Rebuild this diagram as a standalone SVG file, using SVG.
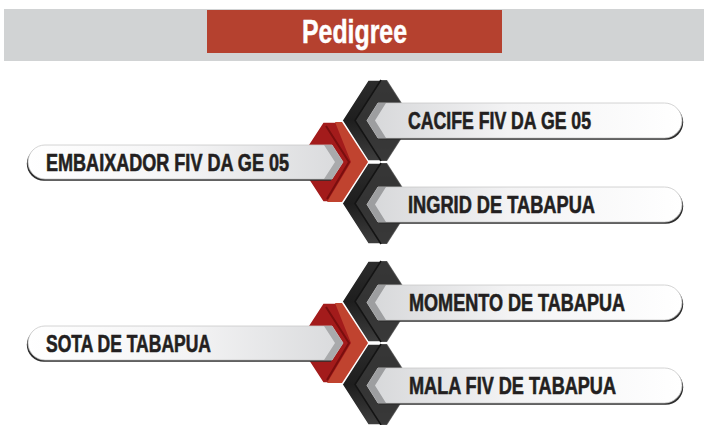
<svg xmlns="http://www.w3.org/2000/svg" width="704" height="425" viewBox="0 0 704 425">
<style>
.lbl{font-family:"Liberation Sans",Arial,sans-serif;font-weight:bold;font-size:24px;fill:#231f20;stroke:#231f20;stroke-width:0.6;}
.ttl{font-family:"Liberation Sans",Arial,sans-serif;font-weight:bold;font-size:34px;fill:#ffffff;stroke:#ffffff;stroke-width:0.5;}
.shadow{fill:#2e2e2e;}
.edge{stroke:#c9c9c9;stroke-width:0.8;}
.sep{stroke:#ffffff;stroke-width:1.5;stroke-linejoin:miter;}
</style>
<defs>
<linearGradient id="gLeft" x1="0" y1="0" x2="1" y2="0">
<stop offset="0" stop-color="#ffffff"/>
<stop offset="0.5" stop-color="#f4f4f5"/>
<stop offset="1" stop-color="#d9dadc"/>
</linearGradient>
<linearGradient id="gRight" x1="0" y1="0" x2="1" y2="0">
<stop offset="0" stop-color="#d6d7d9"/>
<stop offset="0.45" stop-color="#f3f3f4"/>
<stop offset="1" stop-color="#ffffff"/>
</linearGradient>
<linearGradient id="gBlack" x1="0" y1="0" x2="0" y2="1">
<stop offset="0" stop-color="#2c2c2c"/>
<stop offset="0.5" stop-color="#1e1e1e"/>
<stop offset="1" stop-color="#3e3e3e"/>
</linearGradient>
<g id="blackChev">
<polygon class="sep" fill="url(#gBlack)" points="368,80 387,80 413,120.5 387,161 368,161 342,120.5"/>
<polygon fill="#383838" opacity="0.85" points="381,80 387,80 413,120.5 387,161 381,161 355,120.5"/>
<polyline fill="none" stroke="#141414" stroke-width="1.5" points="381,80 355,120.5 381,161"/>
</g>
<g id="redChev">
<polygon class="sep" fill="#a31b1b" points="323,122 342,122 368,162 342,202 323,202 297,162"/>
<polygon fill="#c0432f" points="335,122 342,122 368,162 342,202 327,202 351,162"/>
<polyline fill="none" stroke="#7a0e0e" stroke-width="2" points="326,126 349,162 327,199"/>
</g>
<path id="leftPill" d="M332,145 L45,145 A17,17 0 0 0 45,179 L332,179 L343,162 Z"/>
<path id="rightPill" d="M378,103 L664.5,103 A17.5,17.5 0 0 1 664.5,138 L378,138 L367,120.5 Z"/>
</defs>

<g id="header">
<rect x="4" y="9" width="700" height="52" fill="#d1d3d4"/>
<rect x="207" y="10" width="295" height="43" fill="#b5412f"/>
<text class="ttl" x="302" y="43" textLength="105" lengthAdjust="spacingAndGlyphs">Pedigree</text>
</g>

<g id="connectors">
<use href="#blackChev"/>
<use href="#blackChev" transform="translate(0,83)"/>
<use href="#redChev"/>
<use href="#blackChev" transform="translate(0,181)"/>
<use href="#blackChev" transform="translate(0,264)"/>
<use href="#redChev" transform="translate(0,181)"/>
</g>

<g id="node-embaixador">
<use href="#leftPill" class="shadow" transform="translate(-1.2,1.8)"/>
<use href="#leftPill" fill="url(#gLeft)" class="edge"/>
<polygon fill="#a9aaac" points="324,145 332,145 343,162 332,179 324,179 335,162"/>
<text class="lbl" x="46" y="171" textLength="243" lengthAdjust="spacingAndGlyphs">EMBAIXADOR FIV DA GE 05</text>
</g>

<g id="node-cacife">
<use href="#rightPill" class="shadow" transform="translate(1.2,1.8)"/>
<use href="#rightPill" fill="url(#gRight)" class="edge"/>
<polygon fill="#9d9ea0" points="367,120.5 378,103 386,103 375,120.5 386,138 378,138"/>
<text class="lbl" x="408" y="129" textLength="183" lengthAdjust="spacingAndGlyphs">CACIFE FIV DA GE 05</text>
</g>

<g id="node-ingrid" transform="translate(0,84)">
<use href="#rightPill" class="shadow" transform="translate(1.2,1.8)"/>
<use href="#rightPill" fill="url(#gRight)" class="edge"/>
<polygon fill="#9d9ea0" points="367,120.5 378,103 386,103 375,120.5 386,138 378,138"/>
<text class="lbl" x="408" y="129" textLength="187" lengthAdjust="spacingAndGlyphs">INGRID DE TABAPUA</text>
</g>

<g id="node-sota" transform="translate(0,181)">
<use href="#leftPill" class="shadow" transform="translate(-1.2,1.8)"/>
<use href="#leftPill" fill="url(#gLeft)" class="edge"/>
<polygon fill="#a9aaac" points="324,145 332,145 343,162 332,179 324,179 335,162"/>
<text class="lbl" x="46" y="171" textLength="165" lengthAdjust="spacingAndGlyphs">SOTA DE TABAPUA</text>
</g>

<g id="node-momento" transform="translate(0,182)">
<use href="#rightPill" class="shadow" transform="translate(1.2,1.8)"/>
<use href="#rightPill" fill="url(#gRight)" class="edge"/>
<polygon fill="#9d9ea0" points="367,120.5 378,103 386,103 375,120.5 386,138 378,138"/>
<text class="lbl" x="409" y="129" textLength="216" lengthAdjust="spacingAndGlyphs">MOMENTO DE TABAPUA</text>
</g>

<g id="node-mala" transform="translate(0,265)">
<use href="#rightPill" class="shadow" transform="translate(1.2,1.8)"/>
<use href="#rightPill" fill="url(#gRight)" class="edge"/>
<polygon fill="#9d9ea0" points="367,120.5 378,103 386,103 375,120.5 386,138 378,138"/>
<text class="lbl" x="409" y="129" textLength="207" lengthAdjust="spacingAndGlyphs">MALA FIV DE TABAPUA</text>
</g>
</svg>
